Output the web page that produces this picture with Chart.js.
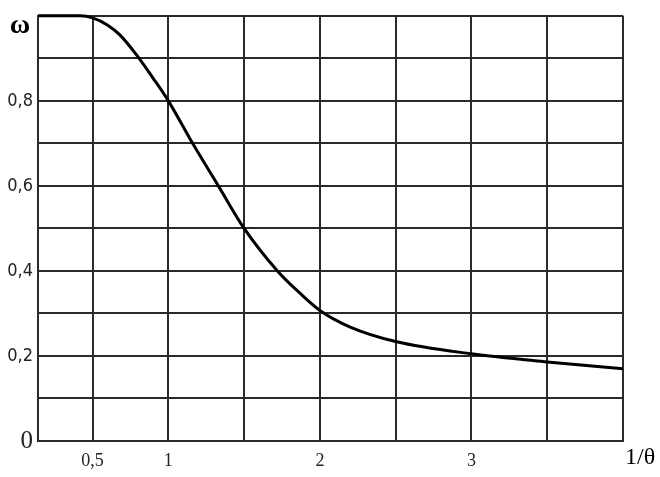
<!DOCTYPE html>
<html><head><meta charset="utf-8">
<script src="https://cdn.jsdelivr.net/npm/chart.js@4/dist/chart.umd.min.js"></script>
<style>html,body{margin:0;padding:0;background:#fff}#wrap{width:660px;height:477px}</style>
</head><body><div id="wrap"><canvas id="c" width="660" height="477"></canvas></div>
<script>
// data
const invTheta = [0.14, 0.42, 0.5, 0.6, 0.68, 0.79, 0.9, 1.0, 1.16, 1.33, 1.5, 1.72, 1.87, 2.0, 2.2, 2.5, 3.0, 3.5, 4.0];
const omega    = [1.0, 1.0, 0.995, 0.978, 0.955, 0.908, 0.853, 0.80, 0.700, 0.600, 0.500, 0.400, 0.347, 0.307, 0.268, 0.234, 0.205, 0.186, 0.170];
const xGrid = [0.14, 0.5, 1, 1.5, 2, 2.5, 3, 3.5, 4];
const xTickLabels = {0.5: '0,5', 1: '1', 2: '2', 3: '3'};
const yGrid = [0, 0.1, 0.2, 0.3, 0.4, 0.5, 0.6, 0.7, 0.8, 0.9, 1.0];
const yTickLabels = {0: '0', 0.2: '0,2', 0.4: '0,4', 0.6: '0,6', 0.8: '0,8'};
const yTitle = 'ω';
const xTitle = '1/θ';

const gridColor = '#2a2a2a';
const titles = {
  id: 'titles',
  afterDraw(chart) {
    const ctx = chart.ctx, a = chart.chartArea;
    ctx.save();
    ctx.fillStyle = '#000';
    ctx.font = 'bold 28px "Liberation Serif", serif';
    ctx.textAlign = 'center'; ctx.textBaseline = 'middle';
    ctx.fillText(yTitle, 20, a.top + 10);
    ctx.font = '24px "Liberation Serif", serif';
    ctx.textAlign = 'left';
    ctx.fillText(xTitle, a.right + 2, a.bottom + 17);
    ctx.restore();
  }
};

new Chart(document.getElementById('c'), {
  type: 'line',
  data: {
    datasets: [{
      data: invTheta.map((x, i) => ({x, y: omega[i]})),
      borderColor: '#000', borderWidth: 3, pointRadius: 0,
      cubicInterpolationMode: 'monotone', fill: false, clip: 6
    }]
  },
  options: {
    responsive: false, animation: false,
    layout: {padding: {top: 14, right: 37, left: 0, bottom: 0}},
    plugins: {legend: {display: false}, tooltip: {enabled: false}},
    scales: {
      x: {
        type: 'linear', min: 0.14, max: 4,
        afterBuildTicks: s => { s.ticks = xGrid.map(v => ({value: v})); },
        afterFit: s => { s.height = 36; },
        border: {color: gridColor, width: 2},
        grid: {color: gridColor, lineWidth: 2, drawTicks: false},
        ticks: {
          autoSkip: false, maxRotation: 0, padding: 9, color: '#222',
          font: {family: '"Liberation Serif", serif', size: 18},
          callback: v => xTickLabels[v] || ''
        }
      },
      y: {
        type: 'linear', min: 0, max: 1,
        afterBuildTicks: s => { s.ticks = yGrid.map(v => ({value: v})); },
        afterFit: s => { s.width = 38; },
        border: {color: gridColor, width: 2},
        grid: {color: gridColor, lineWidth: 2, drawTicks: false},
        ticks: {
          autoSkip: false, padding: 5, color: '#222',
          font: ctx => ctx.tick && ctx.tick.value === 0
            ? {family: '"Liberation Serif", serif', size: 25}
            : {family: '"Liberation Sans Narrow", "DejaVu Sans Condensed", sans-serif', size: 18},
          callback: v => yTickLabels[Math.round(v * 10) / 10] || ''
        }
      }
    }
  },
  plugins: [titles]
});
</script></body></html>
